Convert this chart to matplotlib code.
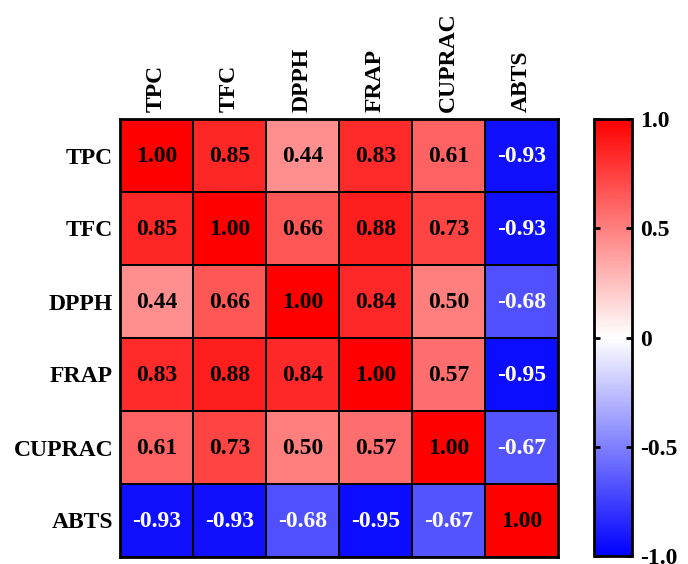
import numpy as np
import matplotlib
matplotlib.use("Agg")
import matplotlib.pyplot as plt
from matplotlib.colors import LinearSegmentedColormap

labels = ["TPC", "TFC", "DPPH", "FRAP", "CUPRAC", "ABTS"]
corr = [
    [1.00, 0.85, 0.44, 0.83, 0.61, -0.93],
    [0.85, 1.00, 0.66, 0.88, 0.73, -0.93],
    [0.44, 0.66, 1.00, 0.84, 0.50, -0.68],
    [0.83, 0.88, 0.84, 1.00, 0.57, -0.95],
    [0.61, 0.73, 0.50, 0.57, 1.00, -0.67],
    [-0.93, -0.93, -0.68, -0.95, -0.67, 1.00],
]
cbar_ticks = [-1.0, -0.5, 0, 0.5, 1.0]
cbar_ticklabels = ["-1.0", "-0.5", "0", "0.5", "1.0"]

plt.rcParams["font.family"] = ["Liberation Serif", "DejaVu Serif"]
plt.rcParams["font.weight"] = "bold"

cmap = LinearSegmentedColormap.from_list("bwr_pure", ["#0000ff", "#ffffff", "#ff0000"])
data = np.array(corr)
n = len(labels)

fig = plt.figure(figsize=(6.88, 5.64), dpi=100)
W, H = 688, 564
ax = fig.add_axes([120 / W, 1 - 557 / H, 438 / W, 438 / H])
cax = fig.add_axes([594 / W, 1 - 556 / H, 38 / W, 437 / H])

mesh = ax.pcolormesh(np.arange(n + 1), np.arange(n + 1), data, cmap=cmap,
                     vmin=-1, vmax=1, edgecolors="black", linewidth=1.2)
ax.set_xlim(0, n)
ax.set_ylim(n, 0)
ax.set_xticks(np.arange(n) + 0.5)
ax.set_yticks(np.arange(n) + 0.5)
ax.set_xticklabels(labels, rotation=90, fontsize=17, fontweight="bold")
ax.set_yticklabels(labels, fontsize=17, fontweight="bold")
ax.xaxis.tick_top()
ax.tick_params(length=0, pad=5)
for s in ax.spines.values():
    s.set_linewidth(2)

for i in range(n):
    for j in range(n):
        v = data[i, j]
        ax.text(j + 0.5, i + 0.52, f"{v:.2f}", ha="center", va="center",
                fontsize=17, fontweight="bold",
                color="white" if v < 0 else "black")

cb = fig.colorbar(mesh, cax=cax, ticks=cbar_ticks)
cb.set_ticklabels(cbar_ticklabels)
cb.outline.set_linewidth(2)
cax.tick_params(axis="y", length=4, width=2, direction="in", left=True, right=True,
                labelsize=17, pad=6)
for lab in cax.get_yticklabels():
    lab.set_fontweight("bold")

fig.savefig("out.png", dpi=100)
